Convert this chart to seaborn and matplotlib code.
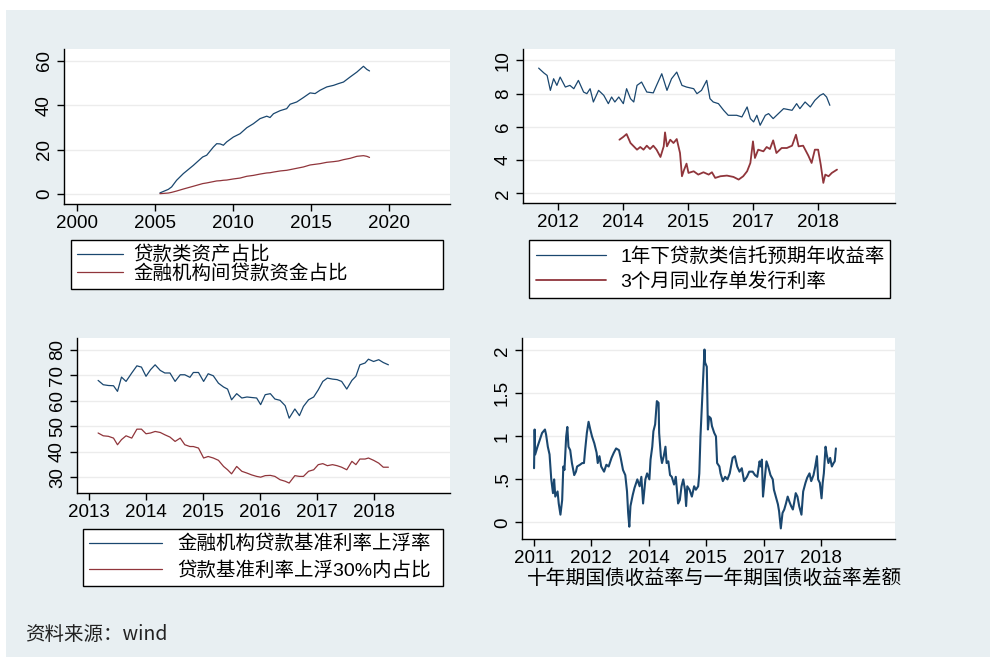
import matplotlib
matplotlib.use("Agg")
import matplotlib.pyplot as plt
import seaborn as sns
from matplotlib.patches import Rectangle

# ---- data ----
# panel 1: share of loan-type assets / interbank loan funds (x = year)
p1_year = [2005.30, 2005.84, 2006.05, 2006.37, 2006.80, 2007.44, 2008.04, 2008.30, 2008.73, 2008.94,
           2009.16, 2009.37, 2009.58, 2010.01, 2010.44, 2010.87, 2011.29, 2011.72, 2012.15, 2012.36,
           2012.58, 2013.01, 2013.43, 2013.65, 2014.07, 2014.50, 2014.93, 2015.25, 2015.57, 2016.00,
           2016.43, 2016.75, 2017.07, 2017.50, 2017.93, 2018.35, 2018.57, 2018.74]
p1_loan_assets = [0.5, 2.1, 3.2, 6.2, 9.2, 12.9, 16.7, 17.5, 21.2, 22.7,
                  22.6, 22.0, 23.5, 25.7, 27.2, 29.9, 31.7, 34.0, 35.1, 34.5,
                  36.2, 37.6, 38.5, 40.5, 41.5, 43.5, 45.6, 45.3, 46.8, 48.3,
                  49.0, 49.8, 50.5, 52.8, 55.0, 57.6, 56.2, 55.5]
p1_interbank = [0.15, 0.45, 0.75, 1.35, 2.25, 3.5, 4.7, 5.0, 5.6, 5.9,
                6.0, 6.2, 6.3, 6.8, 7.2, 8.0, 8.4, 9.0, 9.5, 9.6,
                9.9, 10.4, 10.7, 11.0, 11.6, 12.2, 13.1, 13.4, 13.7, 14.3,
                14.6, 14.9, 15.5, 16.1, 17.0, 17.3, 17.0, 16.5]
p1_ticks = [2000, 2005, 2010, 2015, 2020]

# panel 2: x is observation position, labelled by year at ticks 0..4
p2_trust_x = [-0.29, -0.21, -0.16, -0.11, -0.06, -0.01, 0.04, 0.12, 0.19, 0.25,
              0.32, 0.40, 0.45, 0.50, 0.55, 0.63, 0.71, 0.78, 0.83, 0.88,
              0.94, 1.01, 1.06, 1.12, 1.17, 1.22, 1.29, 1.37, 1.47, 1.52,
              1.60, 1.68, 1.75, 1.83, 1.91, 1.98, 2.09, 2.14, 2.21, 2.29,
              2.34, 2.39, 2.47, 2.55, 2.62, 2.75, 2.83, 2.91, 2.96, 3.01,
              3.06, 3.11, 3.19, 3.24, 3.31, 3.39, 3.47, 3.60, 3.67, 3.72,
              3.80, 3.88, 3.95, 4.03, 4.08, 4.13, 4.18]
p2_trust = [9.54, 9.25, 9.1, 8.2, 8.9, 8.5, 9.0, 8.4, 8.5, 8.3,
            8.8, 8.1, 8.0, 8.3, 7.5, 8.2, 7.9, 7.4, 7.8, 7.5,
            7.8, 7.4, 8.3, 7.7, 7.5, 8.5, 8.7, 8.1, 8.05, 8.5,
            9.2, 8.2, 8.9, 9.3, 8.5, 8.4, 8.3, 8.0, 8.2, 8.8,
            7.7, 7.5, 7.4, 7.0, 6.7, 6.7, 6.6, 7.2, 6.5, 6.3,
            6.7, 6.1, 6.7, 6.8, 6.5, 6.8, 7.1, 7.0, 7.4, 7.1,
            7.5, 7.2, 7.6, 7.9, 8.0, 7.8, 7.3]
p2_ncd_x = [0.95, 1.01, 1.06, 1.12, 1.17, 1.22, 1.27, 1.32, 1.37, 1.42,
            1.47, 1.52, 1.58, 1.63, 1.65, 1.68, 1.73, 1.78, 1.83, 1.88,
            1.91, 1.94, 1.98, 2.01, 2.09, 2.16, 2.24, 2.32, 2.37, 2.42,
            2.50, 2.60, 2.70, 2.78, 2.85, 2.91, 2.96, 3.00, 3.03, 3.08,
            3.16, 3.21, 3.26, 3.31, 3.36, 3.44, 3.52, 3.60, 3.66, 3.70,
            3.77, 3.85, 3.90, 3.95, 4.00, 4.04, 4.08, 4.11, 4.16, 4.21, 4.29]
p2_ncd = [5.23, 5.4, 5.57, 5.03, 4.83, 4.63, 4.79, 4.63, 4.87, 4.67,
          4.87, 4.63, 4.19, 4.83, 5.67, 4.83, 5.23, 5.03, 5.27, 4.43,
          3.03, 3.39, 3.79, 3.23, 3.33, 3.13, 3.27, 3.13, 3.27, 2.93,
          3.03, 3.07, 2.99, 2.83, 3.03, 3.33, 3.83, 5.13, 4.13, 4.63,
          4.53, 4.79, 4.67, 5.19, 4.43, 4.73, 4.73, 4.87, 5.53, 4.83,
          4.87, 4.27, 3.83, 4.63, 4.63, 3.73, 2.63, 3.13, 3.03, 3.23, 3.43]
p2_tick_labels = ['2012', '2014', '2015', '2017', '2018']

# panel 3: loan rate float ratios (x = year)
p3_year = [2013.16, 2013.25, 2013.34, 2013.43, 2013.50, 2013.57, 2013.65, 2013.75, 2013.84, 2013.92,
           2014.00, 2014.08, 2014.16, 2014.25, 2014.33, 2014.42, 2014.51, 2014.60, 2014.68, 2014.77,
           2014.83, 2014.92, 2015.01, 2015.09, 2015.18, 2015.27, 2015.36, 2015.43, 2015.50, 2015.59,
           2015.68, 2015.77, 2015.85, 2015.94, 2016.01, 2016.09, 2016.18, 2016.26, 2016.35, 2016.44,
           2016.51, 2016.61, 2016.69, 2016.76, 2016.85, 2016.94, 2017.02, 2017.10, 2017.18, 2017.27,
           2017.35, 2017.43, 2017.52, 2017.61, 2017.68, 2017.75, 2017.84, 2017.90, 2017.99, 2018.08,
           2018.16, 2018.25]
p3_float_up = [68.0, 66.3, 66.0, 65.9, 63.7, 69.3, 67.6, 70.9, 73.7, 73.2,
               69.6, 72.2, 74.1, 71.9, 70.9, 70.9, 67.6, 70.2, 70.2, 69.2,
               71.1, 71.1, 67.6, 70.6, 69.8, 66.9, 65.4, 64.6, 60.4, 62.8,
               61.1, 61.5, 61.3, 61.1, 58.5, 62.4, 62.8, 60.7, 60.2, 58.1,
               53.2, 56.8, 54.2, 57.8, 60.4, 61.5, 64.3, 67.6, 68.9, 68.5,
               68.3, 67.6, 64.6, 68.0, 69.6, 74.1, 74.8, 76.3, 75.4, 76.1,
               75.0, 74.1]
p3_within30 = [47.4, 46.3, 46.1, 45.4, 42.8, 44.8, 46.3, 45.4, 48.9, 48.9,
               47.1, 47.4, 48.0, 47.6, 46.7, 45.8, 44.1, 45.4, 42.8, 42.1,
               42.1, 41.5, 37.6, 38.2, 37.6, 36.7, 34.3, 33.0, 31.4, 34.3,
               32.4, 31.7, 31.0, 30.4, 30.1, 30.7, 30.8, 30.4, 29.1, 28.5,
               27.8, 30.7, 30.4, 30.4, 32.4, 33.0, 35.0, 35.4, 34.6, 35.0,
               34.6, 34.0, 33.0, 36.3, 35.0, 37.2, 37.2, 37.6, 36.7, 35.6,
               34.0, 34.0]
p3_ticks = [2013, 2014, 2015, 2016, 2017, 2018]

# panel 4: 10y - 1y government bond yield spread, x position labelled at ticks 0..5
p4_x = [0.00, 0.01, 0.02, 0.06, 0.10, 0.14, 0.19, 0.21, 0.24, 0.27,
        0.30, 0.33, 0.35, 0.37, 0.41, 0.43, 0.46, 0.49, 0.51, 0.53,
        0.56, 0.58, 0.60, 0.63, 0.66, 0.70, 0.73, 0.75, 0.80, 0.84,
        0.87, 0.89, 0.92, 0.95, 0.98, 1.01, 1.05, 1.09, 1.11, 1.14,
        1.17, 1.22, 1.26, 1.30, 1.35, 1.39, 1.43, 1.48, 1.51, 1.55,
        1.59, 1.62, 1.64, 1.66, 1.68, 1.72, 1.75, 1.80, 1.84, 1.87,
        1.90, 1.94, 1.97,
        2.01, 2.03, 2.06, 2.08, 2.11, 2.14, 2.17, 2.18, 2.21, 2.23,
        2.26, 2.29, 2.31, 2.34, 2.37, 2.40, 2.44, 2.47, 2.51, 2.54,
        2.57, 2.60, 2.63, 2.65, 2.67, 2.71, 2.75, 2.79, 2.82, 2.86,
        2.88, 2.90, 2.93, 2.95, 2.97, 2.98, 3.01, 3.03, 3.05, 3.08,
        3.10, 3.14, 3.17, 3.19, 3.23, 3.25, 3.29, 3.33, 3.37, 3.41,
        3.46, 3.50, 3.54, 3.58, 3.62, 3.66, 3.71, 3.75,
        3.81, 3.85, 3.89, 3.93, 3.95, 3.97, 3.99, 4.02, 4.05, 4.08,
        4.12, 4.16, 4.18, 4.22, 4.25, 4.27, 4.30, 4.33, 4.36, 4.39,
        4.42, 4.45, 4.48, 4.51, 4.53, 4.56, 4.59, 4.62, 4.66, 4.69,
        4.73, 4.76, 4.80, 4.83, 4.87, 4.90, 4.93, 4.95, 4.98, 5.01,
        5.03, 5.05, 5.08, 5.10, 5.13, 5.16, 5.19, 5.22, 5.24, 5.26]
p4_spread = [0.63, 1.08, 0.79, 0.88, 0.96, 1.04, 1.08, 1.02, 0.88, 0.79,
             0.50, 0.34, 0.50, 0.30, 0.36, 0.22, 0.09, 0.26, 0.65, 0.61,
             1.00, 1.11, 0.88, 0.84, 0.69, 0.55, 0.59, 0.65, 0.67, 0.69,
             0.69, 0.84, 1.04, 1.17, 1.08, 1.00, 0.92, 0.81, 0.69, 0.77,
             0.65, 0.59, 0.67, 0.65, 0.75, 0.81, 0.86, 0.84, 0.75, 0.61,
             0.55, 0.36, 0.11, -0.05, 0.19, 0.32, 0.40, 0.50, 0.42, 0.53,
             0.22, 0.50, 0.57,
             0.50, 0.73, 0.88, 1.06, 1.14, 1.41, 1.39, 1.04, 0.77, 0.69,
             0.77, 0.88, 0.69, 0.71, 0.55, 0.53, 0.44, 0.53, 0.22, 0.26,
             0.42, 0.50, 0.38, 0.19, 0.42, 0.38, 0.30, 0.42, 0.38, 0.42,
             0.57, 1.00, 1.43, 1.70, 2.01, 1.86, 1.81, 1.08, 1.23, 1.21,
             1.12, 1.04, 1.00, 0.69, 0.65, 0.57, 0.48, 0.53, 0.50, 0.57,
             0.75, 0.77, 0.65, 0.59, 0.63, 0.48, 0.53, 0.59,
             0.59, 0.55, 0.53, 0.71, 0.65, 0.73, 0.30, 0.50, 0.71, 0.65,
             0.55, 0.50, 0.38, 0.28, 0.21, 0.13, -0.07, 0.11, 0.15, 0.22,
             0.30, 0.24, 0.19, 0.15, 0.22, 0.34, 0.30, 0.19, 0.09, 0.36,
             0.46, 0.52, 0.57, 0.48, 0.55, 0.65, 0.77, 0.50, 0.46, 0.28,
             0.46, 0.57, 0.88, 0.79, 0.69, 0.75, 0.65, 0.69, 0.71, 0.86]
p4_tick_labels = ['2011', '2012', '2014', '2015', '2017', '2018']

# ---- style ----
sns.set_theme(style="white")
plt.rcParams['font.family'] = ['Liberation Sans', 'Noto Sans CJK SC', 'DejaVu Sans']
plt.rcParams['axes.unicode_minus'] = False

NAVY = '#1a476f'
MAROON = '#90353b'
BG = '#e8eff2'

W, H = 990, 657
fig = plt.figure(figsize=(W / 100, H / 100), dpi=100, facecolor='white')
fig.patches.append(Rectangle((6 / W, 0), 1, (H - 10) / H, transform=fig.transFigure,
                             facecolor=BG, edgecolor='none', zorder=-10))


def make_ax(left, top, right, bottom):
    # pixel box -> figure fraction
    ax = fig.add_axes([left / W, 1 - bottom / H, (right - left) / W, (bottom - top) / H])
    ax.set_facecolor('white')
    for s in ['top', 'right']:
        ax.spines[s].set_visible(False)
    for s in ['left', 'bottom']:
        ax.spines[s].set_color('black')
        ax.spines[s].set_linewidth(1.0)
    ax.grid(axis='y', color='#ececec', linewidth=1.0)
    ax.grid(axis='x', visible=False)
    ax.tick_params(axis='both', direction='out', length=5, width=1, color='black',
                   labelsize=13.5, labelcolor='black', bottom=True, left=True, pad=3)
    return ax


def finish_ax(ax):
    ax.set_xlabel('')
    ax.set_ylabel('')


def add_legend(ax, left, top, right, hl, tp, spacing, pad, fs=14):
    leg = ax.legend(loc='upper left', bbox_to_anchor=(left / W, 1 - top / H, (right - left) / W, 0),
                    bbox_transform=fig.transFigure, mode='expand', borderaxespad=0,
                    fancybox=False, framealpha=1, edgecolor='black', fontsize=fs,
                    handlelength=hl, handletextpad=tp, labelspacing=spacing, borderpad=pad)
    leg.get_frame().set_linewidth(1.0)
    for t in leg.get_texts():
        t.set_color('black')
    return leg


# panel 1
ax1 = make_ax(64, 49, 450, 204)
sns.lineplot(x=p1_year, y=p1_loan_assets, ax=ax1, color=NAVY, linewidth=0.9, label='贷款类资产占比')
sns.lineplot(x=p1_year, y=p1_interbank, ax=ax1, color=MAROON, linewidth=0.9, label='金融机构间贷款资金占比')
ax1.set_xlim(1999.15, 2023.9)
ax1.set_ylim(-4.5, 65.4)
ax1.set_xticks(p1_ticks)
ax1.set_xticklabels([str(t) for t in p1_ticks])
ax1.set_yticks([0, 20, 40, 60])
ax1.set_yticklabels(['0', '20', '40', '60'], rotation=90, va='center')
finish_ax(ax1)
add_legend(ax1, 71, 240, 443, 2.35, 0.55, 0.0, 0.3)

# panel 2
ax2 = make_ax(523, 49, 895, 203)
sns.lineplot(x=p2_trust_x, y=p2_trust, ax=ax2, color=NAVY, linewidth=0.9, label='1年下贷款类信托预期年收益率')
sns.lineplot(x=p2_ncd_x, y=p2_ncd, ax=ax2, color=MAROON, linewidth=1.3, label='3个月同业存单发行利率')
ax2.set_xlim(-0.53, 5.18)
ax2.set_ylim(1.42, 10.69)
ax2.set_xticks(range(len(p2_tick_labels)))
ax2.set_xticklabels(p2_tick_labels)
ax2.set_yticks([2, 4, 6, 8, 10])
ax2.set_yticklabels(['2', '4', '6', '8', '10'], rotation=90, va='center')
finish_ax(ax2)
add_legend(ax2, 529, 240, 890, 3.6, 0.7, 0.3, 0.38)

# panel 3
ax3 = make_ax(77, 338, 450, 493)
sns.lineplot(x=p3_year, y=p3_float_up, ax=ax3, color=NAVY, linewidth=0.9, label='金融机构贷款基准利率上浮率')
sns.lineplot(x=p3_year, y=p3_within30, ax=ax3, color=MAROON, linewidth=0.9, label='贷款基准利率上浮30%内占比')
ax3.set_xlim(2012.79, 2019.33)
ax3.set_ylim(23.9, 84.6)
ax3.set_xticks(p3_ticks)
ax3.set_xticklabels([str(t) for t in p3_ticks])
ax3.set_yticks([30, 40, 50, 60, 70, 80])
ax3.set_yticklabels(['30', '40', '50', '60', '70', '80'], rotation=90, va='center')
finish_ax(ax3)
add_legend(ax3, 83, 529, 443, 3.75, 0.8, 0.42, 0.3)

# panel 4
ax4 = make_ax(522, 338, 895, 539)
sns.lineplot(x=p4_x, y=p4_spread, ax=ax4, color=NAVY, linewidth=1.5)
ax4.set_xlim(-0.21, 6.29)
ax4.set_ylim(-0.193, 2.144)
ax4.set_xticks(range(len(p4_tick_labels)))
ax4.set_xticklabels(p4_tick_labels)
ax4.set_yticks([0, 0.5, 1, 1.5, 2])
ax4.set_yticklabels(['0', '.5', '1', '1.5', '2'], rotation=90, va='center')
finish_ax(ax4)
fig.text(527 / W, 1 - 578 / H, '十年期国债收益率与一年期国债收益率差额',
         fontsize=14.2, color='black', va='center', ha='left',
         family=['Noto Sans CJK SC', 'DejaVu Sans'])

fig.text(25 / W, 1 - 635 / H, '资料来源：wind', fontsize=14, color='#222222',
         va='center', ha='left', family=['Noto Sans CJK SC', 'DejaVu Sans'])

fig.savefig('out.png', dpi=100, facecolor=fig.get_facecolor())
